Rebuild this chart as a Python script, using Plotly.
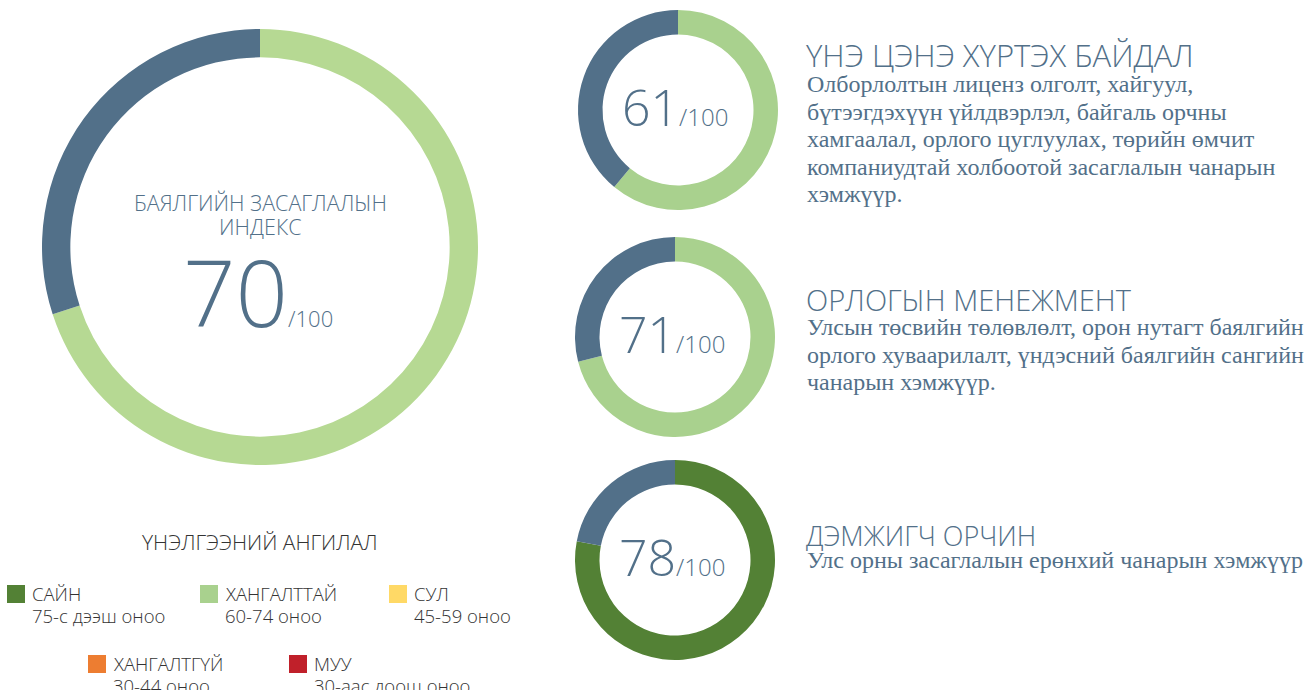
import plotly.graph_objects as go

W, H = 1314, 690

# ---- data ----
index_title_lines = ["БАЯЛГИЙН ЗАСАГЛАЛЫН", "ИНДЕКС"]
index_score = 70
max_score = 100

component_titles = ["ҮНЭ ЦЭНЭ ХҮРТЭХ БАЙДАЛ", "ОРЛОГЫН МЕНЕЖМЕНТ", "ДЭМЖИГЧ ОРЧИН"]
component_scores = [61, 71, 78]
component_desc_lines = [
    ["Олборлолтын лиценз олголт, хайгуул,",
     "бүтээгдэхүүн үйлдвэрлэл, байгаль орчны",
     "хамгаалал, орлого цуглуулах, төрийн өмчит",
     "компаниудтай холбоотой засаглалын чанарын",
     "хэмжүүр."],
    ["Улсын төсвийн төлөвлөлт, орон нутагт баялгийн",
     "орлого хуваарилалт, үндэсний баялгийн сангийн",
     "чанарын хэмжүүр."],
    ["Улс орны засаглалын ерөнхий чанарын хэмжүүр"],
]

legend_title = "ҮНЭЛГЭЭНИЙ АНГИЛАЛ"
legend_labels = ["САЙН", "ХАНГАЛТТАЙ", "СУЛ", "ХАНГАЛТГҮЙ", "МУУ"]
legend_ranges = ["75-с дээш оноо", "60-74 оноо", "45-59 оноо", "30-44 оноо", "30-аас доош оноо"]
legend_colors = ["#538135", "#a9d18e", "#ffd966", "#ed7d31", "#c0202a"]

DARK = "#527089"
TEXT = "#527089"
SANS = "Open Sans, Lato, sans-serif"
SERIF = "Liberation Serif, Times New Roman, serif"


def px(x):
    return x / W


def py(y):
    return 1 - y / H


def band_color(score):
    if score >= 75:
        return legend_colors[0]
    if score >= 60:
        return legend_colors[1]
    if score >= 45:
        return legend_colors[2]
    if score >= 30:
        return legend_colors[3]
    return legend_colors[4]


fig = go.Figure()

# big donut
fig.add_trace(go.Pie(
    values=[index_score, max_score - index_score],
    marker=dict(colors=["#b6d993", DARK], line=dict(width=0)),
    hole=0.87, sort=False, direction="clockwise", rotation=0,
    textinfo="none", hoverinfo="skip", showlegend=False,
    domain=dict(x=[px(42), px(478)], y=[py(465), py(29)]),
))

# small donuts
centers = [(678, 110), (675, 337), (675, 560)]
for (cx, cy), s in zip(centers, component_scores):
    fig.add_trace(go.Pie(
        values=[s, max_score - s],
        marker=dict(colors=[band_color(s), DARK], line=dict(width=0)),
        hole=0.755, sort=False, direction="clockwise", rotation=0,
        textinfo="none", hoverinfo="skip", showlegend=False,
        domain=dict(x=[px(cx - 100), px(cx + 100)], y=[py(cy + 100), py(cy - 100)]),
    ))

ann = []
shapes = []


def txt(x, y, text, size, color=TEXT, family=SANS, xanchor="left", weight=300):
    ann.append(dict(x=px(x), y=py(y), text=text, showarrow=False,
                    font=dict(family=family, size=size, color=color, weight=weight),
                    xanchor=xanchor, yanchor="middle",
                    align=xanchor if xanchor != "center" else "center"))


# big donut text
for i, line in enumerate(index_title_lines):
    txt(260, 202 + 25 * i, line, 21.5, xanchor="center")
txt(258, 291,
    f"{index_score}<span style='font-size:22px'>/{max_score}</span>", 92,
    xanchor="center")

# small donut texts
for (cx, cy), s in zip(centers, component_scores):
    txt(cx - 3, cy - 3,
        f"{s}<span style='font-size:24px'>/{max_score}</span>", 50,
        xanchor="center")

title_y = [55, 299, 535]
title_sizes = [31, 29, 27]
desc_y0 = [84, 327, 560]
for ty, ts, dy, t, lines in zip(title_y, title_sizes, desc_y0, component_titles, component_desc_lines):
    txt(804, ty, t, ts)
    for j, line in enumerate(lines):
        txt(805, dy + 27.5 * j, line, 24, family=SERIF, weight=400)

# legend
txt(259, 542, legend_title, 21, color="#333333", xanchor="center")
leg_pos = [(7, 585), (200, 585), (389, 585), (88, 655), (289, 655)]
for (lx, ly), lab, rng, col in zip(leg_pos, legend_labels, legend_ranges, legend_colors):
    shapes.append(dict(type="rect", xref="paper", yref="paper",
                       x0=px(lx), x1=px(lx + 18), y0=py(ly + 18), y1=py(ly),
                       fillcolor=col, line=dict(width=0)))
    txt(lx + 23, ly + 8, lab, 18.5, color="#333333")
    txt(lx + 23, ly + 30, rng, 18.5, color="#333333")

fig.update_layout(
    width=W, height=H,
    margin=dict(l=0, r=0, t=0, b=0),
    paper_bgcolor="white", plot_bgcolor="white",
    annotations=ann, shapes=shapes,
    showlegend=False,
)

fig.write_html("out.html", config={"displayModeBar": False},
               post_script="document.body.style.margin='0';")
